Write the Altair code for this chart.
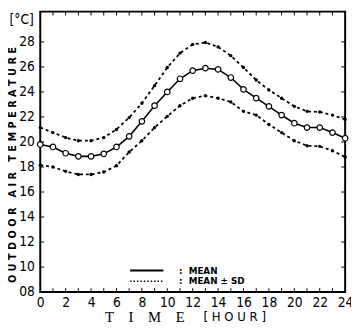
import altair as alt
import pandas as pd

hours = list(range(25))
mean = [19.8, 19.6, 19.1, 18.85, 18.85, 19.05, 19.6, 20.45, 21.65, 22.9, 24.0, 25.05, 25.7,
        25.9, 25.8, 25.15, 24.2, 23.5, 22.85, 22.15, 21.5, 21.15, 21.15, 20.75, 20.3]
upper = [21.15, 20.75, 20.35, 20.1, 20.1, 20.35, 21.0, 21.95, 23.1, 24.5, 25.95, 27.1, 27.8,
         27.95, 27.6, 26.9, 25.95, 24.95, 24.15, 23.5, 22.85, 22.45, 22.4, 22.15, 21.8]
lower = [18.15, 18.0, 17.65, 17.4, 17.4, 17.6, 18.1, 19.2, 20.1, 21.15, 22.05, 22.9, 23.5,
         23.7, 23.5, 23.2, 22.45, 22.15, 21.4, 20.75, 20.1, 19.7, 19.65, 19.3, 18.8]

x_labels = list(range(0, 25, 2))
y_labels = list(range(8, 29, 2))
x_minor = list(range(1, 24))
y_minor = list(range(10, 29, 2))

NB = "\u00a0"


def spaced(words, gap=1, wordgap=3):
    return (NB * wordgap).join((NB * gap).join(list(w)) for w in words)


legend_labels = [":" + NB + NB + "MEAN", ":" + NB + NB + "MEAN" + NB + "\u00b1" + NB + "SD"]
y_title = spaced(["OUTDOOR", "AIR", "TEMPERATURE"], 1, 3)
x_title_a = spaced(["TIME"], 4, 4)
x_title_b = "[" + NB + spaced(["HOUR"], 1, 1) + NB + "]"
unit = "[\u00b0C]"

NARROW = "Liberation Sans Narrow, DejaVu Sans Condensed, Roboto, sans-serif"

W, H = 312, 287

rows = []
for h, m, u, l in zip(hours, mean, upper, lower):
    rows.append({"hour": h, "temp": m, "series": "mean"})
    rows.append({"hour": h, "temp": u, "series": "upper"})
    rows.append({"hour": h, "temp": l, "series": "lower"})
df = pd.DataFrame(rows)

X = alt.X("hour:Q",
          scale=alt.Scale(domain=[0, 24], nice=False, zero=False),
          axis=alt.Axis(values=x_labels, ticks=False, domain=False, grid=False,
                        labelPadding=4, labelFont=NARROW, labelFontSize=14,
                        labelColor="black", title=None, labelFlush=False))
Y = alt.Y("temp:Q",
          scale=alt.Scale(domain=[8, 30.42], nice=False, zero=False),
          axis=alt.Axis(values=y_labels, ticks=False, domain=False, grid=False,
                        labelPadding=6, labelFont=NARROW, labelFontSize=14,
                        labelColor="black", title=None, labelFlush=False,
                        labelExpr="datum.value < 10 ? '0' + datum.value : '' + datum.value"))

base = alt.Chart(df)
sd = base.transform_filter("datum.series != 'mean'")
mn = base.transform_filter("datum.series == 'mean'")

sd_line = sd.mark_line(color="black", strokeWidth=1.8, strokeDash=[3, 3]).encode(
    x=X, y=Y, detail="series:N")
sd_pts = sd.mark_circle(color="black", size=12, opacity=1).encode(x=X, y=Y)
mn_line = mn.mark_line(color="black", strokeWidth=1.6).encode(x=X, y=Y)
mn_pts = mn.mark_point(shape="circle", filled=True, fill="white", stroke="black",
                       strokeWidth=1.2, size=32, opacity=1).encode(x=X, y=Y)

xt = pd.DataFrame({"hour": x_minor})
yt = pd.DataFrame({"temp": y_minor})
tick_top = alt.Chart(xt).mark_rule(color="black", strokeWidth=1).encode(
    x=X, y=alt.value(0), y2=alt.value(4))
tick_bot = alt.Chart(xt).mark_rule(color="black", strokeWidth=1).encode(
    x=X, y=alt.value(H - 4), y2=alt.value(H))
tick_left = alt.Chart(yt).mark_rule(color="black", strokeWidth=1).encode(
    y=Y, x=alt.value(0), x2=alt.value(4))
tick_right = alt.Chart(yt).mark_rule(color="black", strokeWidth=1).encode(
    y=Y, x=alt.value(W - 4), x2=alt.value(W))


def txt(s, x, y, **kw):
    return alt.Chart(pd.DataFrame({"t": [s]})).mark_text(color="black", **kw).encode(
        text="t:N", x=alt.value(x), y=alt.value(y))


leg_solid = alt.Chart(pd.DataFrame({"t": [legend_labels[0]]})).mark_rule(
    color="black", strokeWidth=2).encode(x=alt.value(92), x2=alt.value(126), y=alt.value(265))
leg_dot = alt.Chart(pd.DataFrame({"t": [legend_labels[1]]})).mark_rule(
    color="black", strokeWidth=1.5, strokeDash=[1.5, 2]).encode(
    x=alt.value(92), x2=alt.value(126), y=alt.value(276))
leg_t1 = txt(legend_labels[0], 142, 265, align="left", baseline="middle",
             font="DejaVu Sans", fontSize=9, fontWeight="bold")
leg_t2 = txt(legend_labels[1], 142, 276, align="left", baseline="middle",
             font="DejaVu Sans", fontSize=9, fontWeight="bold")

ytitle = txt(y_title, -28, 157, angle=270, align="center", baseline="middle",
             font="DejaVu Sans", fontSize=10, fontWeight="bold")
unit_t = txt(unit, -19, 9, align="center", baseline="middle", font=NARROW, fontSize=14)
xtitle_a = txt(x_title_a, 107, 313, align="center", baseline="middle",
               font="Liberation Serif", fontSize=15)
xtitle_b = txt(x_title_b, 199, 313, align="center", baseline="middle",
               font="DejaVu Sans", fontSize=12)

chart = alt.layer(
    sd_line, sd_pts, mn_line, mn_pts,
    tick_top, tick_bot, tick_left, tick_right,
    leg_solid, leg_dot, leg_t1, leg_t2,
    ytitle, unit_t, xtitle_a, xtitle_b,
).properties(
    width=W, height=H,
    autosize=alt.AutoSizeParams(type="none"),
    padding={"left": 33, "top": 0, "right": 6, "bottom": 31},
    background="white",
).configure_view(stroke="black", strokeWidth=2)

chart.save("out.html", embed_options={"renderer": "svg", "actions": False})
